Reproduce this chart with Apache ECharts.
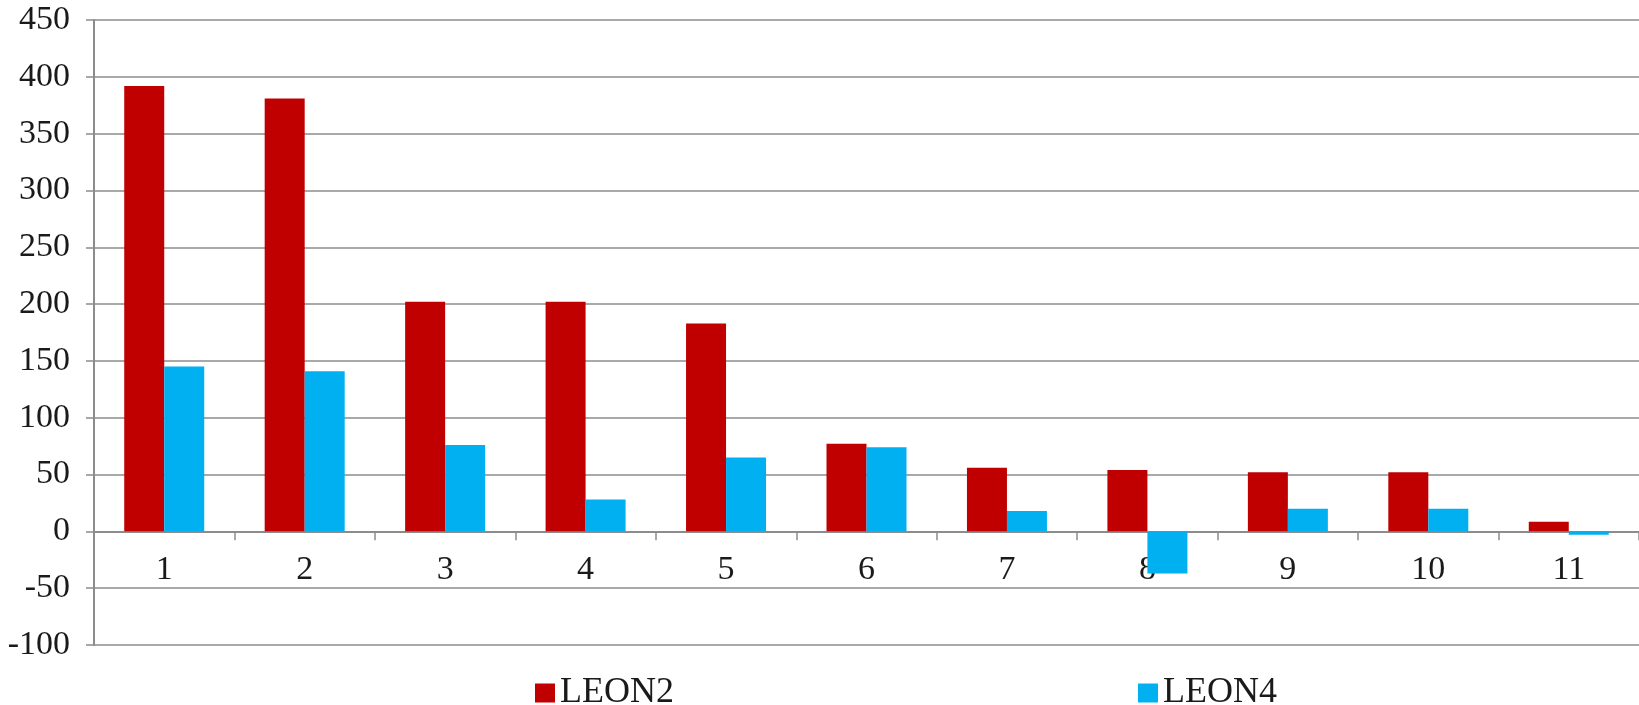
<!DOCTYPE html>
<html>
<head>
<meta charset="utf-8">
<script src="https://cdn.jsdelivr.net/npm/echarts@6/dist/echarts.min.js"></script>
<style>
html,body{margin:0;padding:0;background:#fff;}
#chart{width:1639px;height:705px;}
</style>
</head>
<body>
<div id="chart"></div>
<script>
var categories = ['1','2','3','4','5','6','7','8','9','10','11'];
var leon2 = [392, 381, 202, 202, 183, 77, 56, 54, 52, 52, 8.5];
var leon4 = [145, 141, 76, 28, 65, 74, 18, -37, 20, 20, -3];
var yTicks = [-100, -50, 0, 50, 100, 150, 200, 250, 300, 350, 400, 450];

var chart = echarts.init(document.getElementById('chart'), null, {renderer:'canvas'});
var fontFam = '"Liberation Serif", "Times New Roman", serif';
chart.setOption({
  animation: false,
  backgroundColor: '#ffffff',
  textStyle: { fontFamily: fontFam },
  grid: { left: 94, right: 0, top: 20, bottom: 60, containLabel: false },
  legend: {
    data: ['LEON2', 'LEON4'],
    left: 530,
    top: 670,
    itemWidth: 20,
    itemHeight: 19,
    itemGap: 464,
    icon: 'rect',
    textStyle: { fontFamily: fontFam, fontSize: 36, color: '#1a1a1a' }
  },
  xAxis: [{
    type: 'category',
    data: categories,
    axisLine: { onZero: true, lineStyle: { color: '#8c8c8c', width: 2 } },
    axisTick: { show: true, length: 9, inside: false, lineStyle: { color: '#8c8c8c', width: 1.5 } },
    axisLabel: { show: false },
    splitLine: { show: false }
  }, {
    type: 'category',
    data: categories,
    position: 'bottom',
    offset: -114,
    axisLine: { show: false, onZero: false },
    axisTick: { show: false },
    axisLabel: { fontFamily: fontFam, fontSize: 34, color: '#1a1a1a', margin: 22 },
    splitLine: { show: false }
  }],
  yAxis: {
    type: 'value',
    min: yTicks[0],
    max: yTicks[yTicks.length - 1],
    interval: 50,
    axisLine: { show: true, lineStyle: { color: '#8c8c8c', width: 2 } },
    axisTick: { show: true, length: 8, lineStyle: { color: '#8c8c8c', width: 1.5 } },
    axisLabel: { fontFamily: fontFam, fontSize: 34, color: '#1a1a1a', margin: 24 },
    splitLine: { show: true, lineStyle: { color: '#8c8c8c', width: 1.5 } }
  },
  series: [
    { name: 'LEON2', type: 'bar', data: leon2, barWidth: 40, barGap: '0%',
      itemStyle: { color: '#C00000' } },
    { name: 'LEON4', type: 'bar', data: leon4, barWidth: 40, barGap: '0%',
      itemStyle: { color: '#00B0F0' } }
  ]
});
</script>
</body>
</html>
